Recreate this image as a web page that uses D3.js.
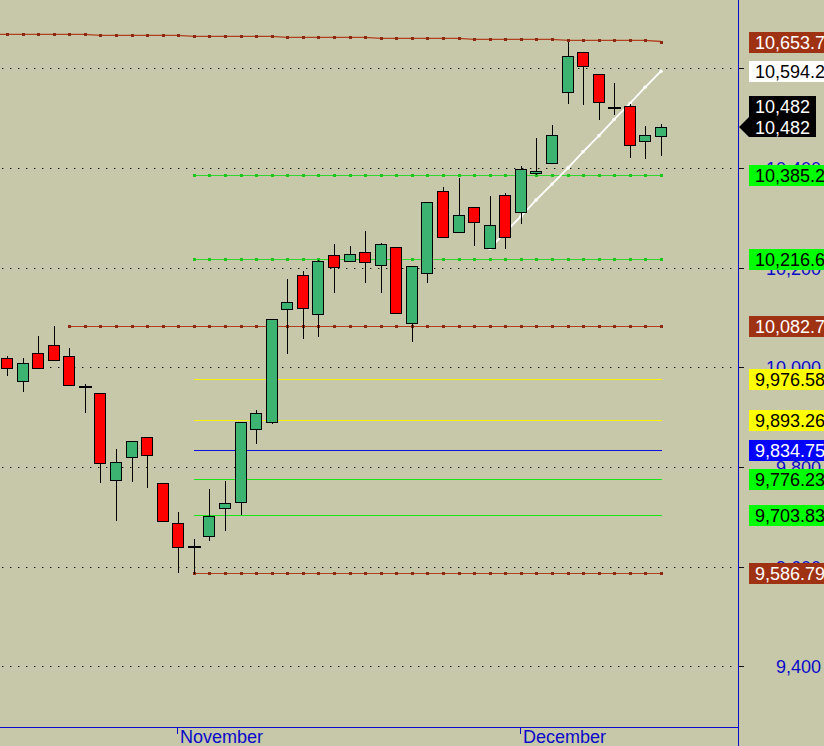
<!DOCTYPE html>
<html>
<head>
<meta charset="utf-8">
<script src="https://cdn.jsdelivr.net/npm/d3@7"></script>
<style>
  html, body { margin: 0; padding: 0; background: #c6c8a9; }
  svg { display: block; font-family: "Liberation Sans", Arial, sans-serif; }
</style>
</head>
<body>
<svg id="chart" width="824" height="746"></svg>
<script>
// ---- trading days ----
const dates = [
  "2010-10-15","2010-10-18","2010-10-19","2010-10-20","2010-10-21","2010-10-22",
  "2010-10-25","2010-10-26","2010-10-27","2010-10-28","2010-10-29",
  "2010-11-01","2010-11-02","2010-11-03","2010-11-04","2010-11-05",
  "2010-11-08","2010-11-09","2010-11-10","2010-11-11","2010-11-12",
  "2010-11-15","2010-11-16","2010-11-17","2010-11-18","2010-11-19",
  "2010-11-22","2010-11-23","2010-11-24","2010-11-25","2010-11-26",
  "2010-11-29","2010-11-30",
  "2010-12-01","2010-12-02","2010-12-03","2010-12-06","2010-12-07",
  "2010-12-08","2010-12-09","2010-12-10","2010-12-13","2010-12-14"
];

// ---- OHLC ----
const open  = [10018, 9972,10028,10044,10022, 9960, 9949, 9774, 9819, 9861,
                9767, 9688, 9640, 9662, 9718, 9730, 9877, 9891,10116,10186,
               10107,10226,10214,10232,10206,10242,10088,10190,10353,10271,
               10321,10238.4,10345,10311,10389,10409,10552,10633,10588,10520,
               10524,10455,10465];
const high  = [10023,10018,10063,10082.7,10038, 9967, 9949, 9837, 9853, 9861,
                9767, 9710, 9656, 9756, 9771, 9891, 9915,10096,10178,10194,
               10215,10247,10244,10273,10249,10242,10203,10331,10361,10380,
               10321,10344,10349,10403,10460,10486,10653.7,10633,10588,10570,
               10528,10484,10489];
const low   = [ 9985, 9952, 9999,10015, 9965, 9910, 9770, 9693, 9771, 9760,
                9692, 9590, 9586.79, 9653, 9673, 9705, 9848, 9889,10028,10058,
               10063,10151,10214,10171,10151,10108,10053,10172,10262,10271,
               10246,10238.4,10239,10290,10388,10409,10531,10529,10499,10508,
               10422,10420,10426];
const close = [ 9999,10009, 9999,10015, 9965, 9960, 9808, 9809, 9853, 9824,
                9692, 9639, 9640, 9702, 9728, 9891, 9909,10096,10132,10119,
               10214,10201,10228,10212,10248,10108,10203,10331,10262,10305,
               10291,10285,10262,10397,10393,10467,10624,10604,10532,10520,
               10447,10467,10482];

// ---- upper resistance line (one value per day) ----
const resistance = [
  10668,10668,10668,10668,10668,10668,
  10666,10666,10666,10666,10666,10666,
  10664,10664,10664,10664,10664,10664,
  10662,10662,10662,10662,10662,10662,
  10660,10660,10660,10660,10660,10660,
  10658,10658,10658,10658,10658,10658,
  10656,10656,10656,10656,10656,10656,
  10653.7
];

// ---- rising trend line from the late-November low ----
const trendStart = "2010-11-29";
const trendValues = [10238.4,10270.7,10303.1,10335.4,10367.8,10400.1,
                     10432.5,10464.8,10497.2,10529.5,10561.9,10594.2];

// ---- horizontal price levels ----
const levelValues = [10385.2, 10216.6, 10082.7, 9976.58, 9893.26, 9834.75, 9776.23, 9703.83, 9586.79];
const levelLabels = ["10,385.2","10,216.6","10,082.7","9,976.58","9,893.26","9,834.75","9,776.23","9,703.83","9,586.79"];
const levelKinds  = ["target","target","swing","upper","upper","mid","lower","lower","swing"];
const levelStart  = ["2010-11-02","2010-11-02","2010-10-21","2010-11-02","2010-11-02",
                     "2010-11-02","2010-11-02","2010-11-02","2010-11-02"];

const yTicks = [9400, 9600, 9800, 10000, 10200, 10400, 10600];
const lastPrice = 10482;
const lastPriceLabels = ["10,482", "10,482"];

// ---- look ----
const kindStyle = {
  target: { line: "#2ed82e", marker: "#1fc41f", box: "#00ff00", text: "#000", markers: true },
  swing:  { line: "#b2401e", marker: "#8a2a12", box: "#a03214", text: "#fff", markers: true },
  upper:  { line: "#f4f400", box: "#ffff00", text: "#000", markers: false },
  mid:    { line: "#1010d8", box: "#0000ff", text: "#fff", markers: false },
  lower:  { line: "#19e619", box: "#00ff00", text: "#000", markers: false }
};
const axisBlue = "#0a0ac8";
const FS = 18;

const svg = d3.select("#chart");
const W = 824, H = 746;
const axisX = 738, axisY = 727;

const x = d3.scalePoint().domain(dates).range([7, 661]);
const y = d3.scaleLinear().domain([9400, 10600]).range([666.3, 68.3]);
const cx = d => Math.round(x(d));

// background
svg.append("rect").attr("width", W).attr("height", H).attr("fill", "#c6c8a9");

// dotted grid
svg.append("g").selectAll("line").data(yTicks).join("line")
  .attr("x1", 2).attr("x2", axisX - 3)
  .attr("y1", v => Math.round(y(v)) + 0.5).attr("y2", v => Math.round(y(v)) + 0.5)
  .attr("stroke", "#111").attr("stroke-width", 1).attr("stroke-dasharray", "1.4,6.6");

// horizontal levels
const levels = levelValues.map((v, i) => ({ v, label: levelLabels[i], kind: levelKinds[i], start: levelStart[i] }));
const gLevels = svg.append("g").attr("shape-rendering", "crispEdges");
levels.forEach(L => {
  const st = kindStyle[L.kind];
  const days = dates.slice(dates.indexOf(L.start));
  const yy = Math.round(y(L.v));
  const x0 = cx(days[0]), x1 = cx(days[days.length - 1]);
  gLevels.append("rect")
    .attr("x", x0).attr("y", yy).attr("width", x1 - x0 + 1).attr("height", 1)
    .attr("fill", st.line);
  if (st.markers) {
    gLevels.append("g").selectAll("rect").data(days).join("rect")
      .attr("x", d => cx(d) - 1).attr("y", yy - 1)
      .attr("width", 3).attr("height", 3).attr("fill", st.marker);
  }
});

// upper resistance line, running in from the left edge
const resPts = dates.map((d, i) => [cx(d), y(resistance[i])]);
svg.append("path")
  .attr("d", d3.line()([[0, resPts[0][1]], ...resPts]))
  .attr("fill", "none").attr("stroke", "#b2401e").attr("stroke-width", 1.4);
svg.append("g").attr("shape-rendering", "crispEdges").selectAll("rect").data(resPts).join("rect")
  .attr("x", p => p[0] - 1).attr("y", p => Math.round(p[1]) - 1)
  .attr("width", 3).attr("height", 3).attr("fill", "#8a2a12");

// trend line
const trendDays = dates.slice(dates.indexOf(trendStart));
const trendPts = trendDays.map((d, i) => [cx(d), y(trendValues[i])]);
svg.append("path")
  .attr("d", d3.line()(trendPts))
  .attr("fill", "none").attr("stroke", "#ffffff").attr("stroke-width", 1.8);
svg.append("g").selectAll("circle").data(trendPts).join("circle")
  .attr("cx", p => p[0]).attr("cy", p => p[1]).attr("r", 1.8).attr("fill", "#ffffff");

// candles
const candles = dates.map((d, i) => ({ d, o: open[i], h: high[i], l: low[i], c: close[i] }));
const gC = svg.append("g").attr("shape-rendering", "crispEdges");
candles.forEach(k => {
  const xc = cx(k.d);
  gC.append("rect")
    .attr("x", xc).attr("y", Math.round(y(k.h)))
    .attr("width", 1).attr("height", Math.round(y(k.l)) - Math.round(y(k.h)) + 1)
    .attr("fill", "#000");
  if (k.o === k.c) {
    gC.append("rect")
      .attr("x", xc - 6).attr("y", Math.round(y(k.c)) - 1)
      .attr("width", 13).attr("height", 2).attr("fill", "#000");
  } else {
    const yt = Math.round(y(Math.max(k.o, k.c)));
    const yb = Math.round(y(Math.min(k.o, k.c)));
    gC.append("rect")
      .attr("x", xc - 5.5).attr("y", yt + 0.5)
      .attr("width", 11).attr("height", Math.max(1, yb - yt))
      .attr("fill", k.c > k.o ? "#3cb371" : "#ff0000")
      .attr("stroke", "#000").attr("stroke-width", 1);
  }
});

// axes lines
const gA = svg.append("g").attr("shape-rendering", "crispEdges");
gA.append("rect").attr("x", axisX).attr("y", 0).attr("width", 1).attr("height", H).attr("fill", axisBlue);
gA.append("rect").attr("x", 0).attr("y", axisY).attr("width", axisX).attr("height", 1).attr("fill", axisBlue);

// y ticks and labels
const fmt = d3.format(",");
gA.append("g").selectAll("rect").data(yTicks).join("rect")
  .attr("x", axisX + 1).attr("y", v => Math.round(y(v))).attr("width", 5).attr("height", 1)
  .attr("fill", "#111");
svg.append("g").selectAll("text").data(yTicks).join("text")
  .attr("x", 821).attr("y", v => Math.round(y(v)) + 7)
  .attr("text-anchor", "end").attr("font-size", FS).attr("fill", axisBlue)
  .text(v => fmt(v));

// month ticks
const monthNames = ["January","February","March","April","May","June","July","August","September","October","November","December"];
const monthStarts = dates.filter((d, i) => i > 0 && d.slice(5, 7) !== dates[i - 1].slice(5, 7));
const gM = svg.append("g");
monthStarts.forEach(d => {
  const xm = cx(d) - 1;
  gM.append("rect").attr("x", xm).attr("y", axisY + 1).attr("width", 1).attr("height", 6)
    .attr("fill", axisBlue).attr("shape-rendering", "crispEdges");
  gM.append("text").attr("x", xm + 3).attr("y", 743)
    .attr("font-size", FS).attr("fill", axisBlue)
    .text(monthNames[+d.slice(5, 7) - 1]);
});

// level price boxes
const gB = svg.append("g");
function priceBox(v, label, fill, color) {
  const yc = Math.round(y(v));
  gB.append("rect").attr("x", 749).attr("y", yc - 10).attr("width", 90).attr("height", 21)
    .attr("fill", fill).attr("shape-rendering", "crispEdges");
  gB.append("text").attr("x", 755).attr("y", yc + 7)
    .attr("font-size", FS).attr("fill", color).text(label);
}
levels.forEach(L => priceBox(L.v, L.label, kindStyle[L.kind].box, kindStyle[L.kind].text));
priceBox(resistance[resistance.length - 1], "10,653.7", kindStyle.swing.box, "#fff");
priceBox(trendValues[trendValues.length - 1], "10,594.2", "#ffffff", "#000");

// last price flag
const yl = Math.round(y(lastPrice));
svg.append("path")
  .attr("d", `M749,${yl - 31} L816,${yl - 31} L816,${yl + 10} L749,${yl + 10} L739,${yl} L749,${yl - 10} Z`)
  .attr("fill", "#000");
svg.append("g").selectAll("text").data(lastPriceLabels).join("text")
  .attr("x", 755).attr("y", (d, i) => yl - 14 + i * 21)
  .attr("font-size", FS).attr("fill", "#fff").text(d => d);
</script>
</body>
</html>
